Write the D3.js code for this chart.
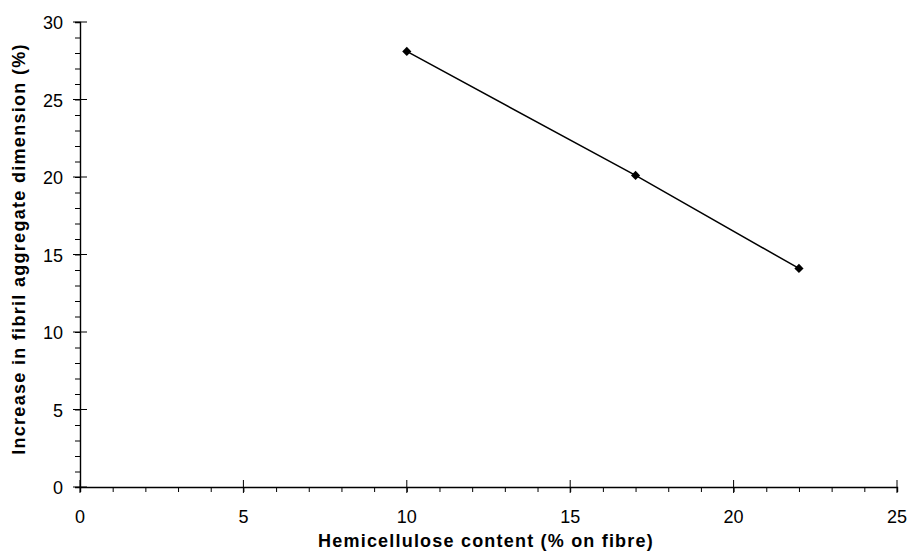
<!DOCTYPE html>
<html><head><meta charset="utf-8">
<script src="https://cdn.jsdelivr.net/npm/d3@7"></script>
<style>body{margin:0;background:#fff;} svg{display:block;font-family:"Liberation Sans",Arial,sans-serif;}</style>
</head><body>
<svg id="c" width="908" height="559"></svg>
<script>
const hemicellulose = [10, 17, 22];
const increase = [28.1, 20.1, 14.1];
const xTicks = [0, 5, 10, 15, 20, 25];
const yTicks = [0, 5, 10, 15, 20, 25, 30];
const xTitle = "Hemicellulose content (% on fibre)";
const yTitle = "Increase in fibril aggregate dimension (%)";

const svg = d3.select("#c");
const L = 80, R = 897, T = 22, B = 487;
const x = d3.scaleLinear().domain([0, 25]).range([L, R]);
const y = d3.scaleLinear().domain([0, 30]).range([B, T]);

// minor ticks
const gx = svg.append("g").attr("transform", `translate(0,${B})`);
gx.call(d3.axisBottom(x).tickValues(d3.range(0, 26, 1)).tickSize(5).tickFormat(""));
const gy = svg.append("g").attr("transform", `translate(${L},0)`);
gy.call(d3.axisLeft(y).tickValues(d3.range(0, 31, 1)).tickSize(5).tickFormat(""));
[gx, gy].forEach(g => { g.select(".domain").attr("stroke", "#000").attr("stroke-width", 1.4); g.selectAll(".tick line").attr("stroke", "#000"); });

// major ticks crossing
svg.append("g").selectAll("line").data(xTicks).join("line")
  .attr("x1", d => x(d)).attr("x2", d => x(d)).attr("y1", B - 7).attr("y2", B + 6).attr("stroke", "#000");
svg.append("g").selectAll("line").data(yTicks).join("line")
  .attr("x1", L - 7).attr("x2", L + 7).attr("y1", d => y(d)).attr("y2", d => y(d)).attr("stroke", "#000");

svg.append("g").selectAll("text").data(xTicks).join("text")
  .attr("x", d => x(d)).attr("y", B + 36).attr("text-anchor", "middle")
  .attr("font-size", 18).attr("fill", "#000").text(d => d);
svg.append("g").selectAll("text").data(yTicks).join("text")
  .attr("x", L - 17).attr("y", d => y(d) + 7).attr("text-anchor", "end")
  .attr("font-size", 18).attr("fill", "#000").text(d => d);

svg.append("text").attr("x", 486).attr("y", 547).attr("text-anchor", "middle")
  .attr("font-size", 18).attr("font-weight", "bold").attr("letter-spacing", 1.2).text(xTitle);
svg.append("text").attr("transform", `translate(25,249) rotate(-90)`).attr("text-anchor", "middle")
  .attr("font-size", 18).attr("font-weight", "bold").attr("letter-spacing", 1.3).text(yTitle);

const data = hemicellulose.map((h, i) => [h, increase[i]]);
svg.append("path").datum(data)
  .attr("d", d3.line().x(d => x(d[0])).y(d => y(d[1])))
  .attr("fill", "none").attr("stroke", "#000").attr("stroke-width", 1.5);
svg.append("g").selectAll("path").data(data).join("path")
  .attr("d", d3.symbol().type(d3.symbolSquare).size(42))
  .attr("transform", d => `translate(${x(d[0])},${y(d[1])}) rotate(45)`).attr("fill", "#000");
</script>
</body></html>
